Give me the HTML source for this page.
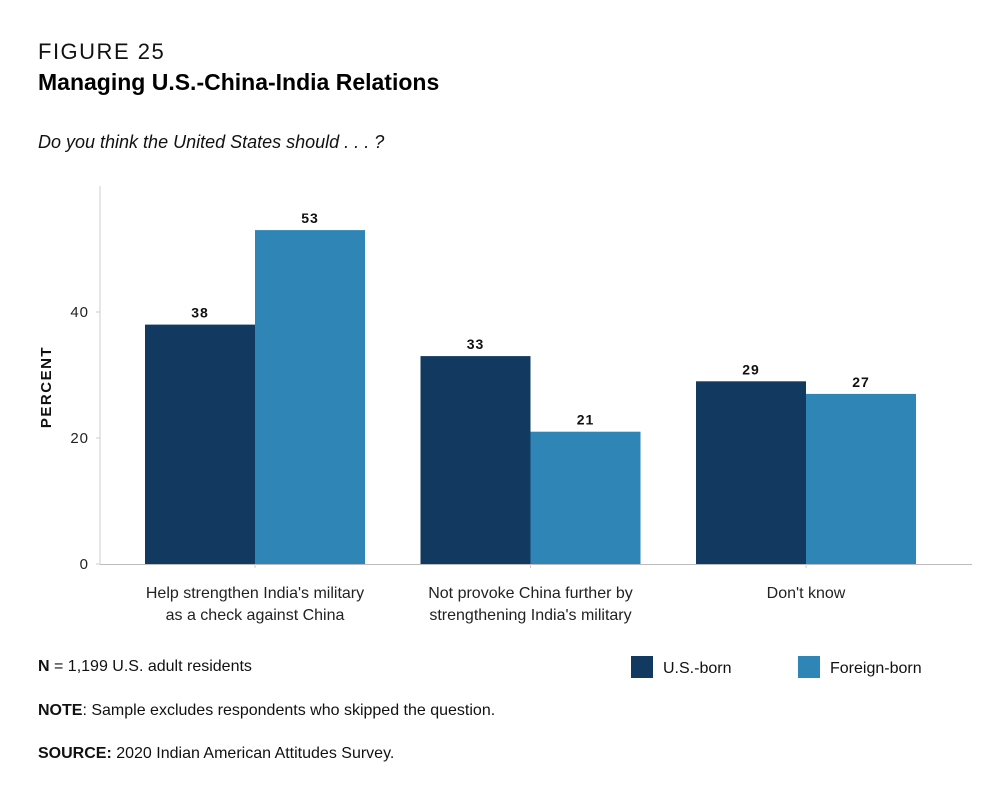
<!DOCTYPE html>
<html><head><meta charset="utf-8"><style>
body{margin:0;background:#fff;font-family:"Liberation Sans",sans-serif;}
.wrap{position:relative;width:1000px;height:790px;overflow:hidden;}
svg text{font-family:"Liberation Sans",sans-serif;}
</style></head><body>
<div class="wrap">
<svg width="1000" height="790">
<text x="38" y="59" font-size="22" letter-spacing="1.5" fill="#111">FIGURE 25</text>
<text x="38" y="90" font-size="23" font-weight="bold" fill="#000">Managing U.S.-China-India Relations</text>
<text x="38" y="148" font-size="18" font-style="italic" fill="#111">Do you think the United States should . . . ?</text>
<g id="plot"></g>
<text transform="translate(51,387) rotate(-90)" text-anchor="middle" font-size="15" font-weight="bold" letter-spacing="1.5" fill="#111">PERCENT</text>
<text x="38" y="671" font-size="16" fill="#111"><tspan font-weight="bold">N</tspan> = 1,199 U.S. adult residents</text>
<text x="38" y="715" font-size="16" fill="#111"><tspan font-weight="bold">NOTE</tspan>: Sample excludes respondents who skipped the question.</text>
<text x="38" y="758" font-size="16" fill="#111"><tspan font-weight="bold">SOURCE:</tspan> 2020 Indian American Attitudes Survey.</text>
<rect x="631" y="656" width="22" height="22" fill="#123a60"/>
<text x="663" y="673" font-size="16" fill="#111">U.S.-born</text>
<rect x="798" y="656" width="22" height="22" fill="#2f86b6"/>
<text x="830" y="673" font-size="16" fill="#111">Foreign-born</text>
</svg>
</div>
<script>
const categories = [["Help strengthen India's military","as a check against China"],["Not provoke China further by","strengthening India's military"],["Don't know",""]];
const usBorn = [38, 33, 29];
const foreignBorn = [53, 21, 27];
const yTicks = [0, 20, 40];

const NS = "http://www.w3.org/2000/svg";
const g = document.getElementById("plot");
const x0 = 100, x1 = 972, yTop = 186, yBase = 564;
const bandStart = 117.25, bandW = 275.5, barW = 110;
const y = v => yBase - v * 6.3;
const cx = i => bandStart + bandW * (i + 0.5);
function mk(tag, attrs, txt){const e=document.createElementNS(NS,tag);for(const k in attrs)e.setAttribute(k,attrs[k]);if(txt!==undefined)e.textContent=txt;g.appendChild(e);return e;}

let e = mk("line",{x1:x0,y1:yTop,x2:x0,y2:yBase,stroke:"#ccc","stroke-width":1});


e = mk("line",{x1:x0,y1:yBase+0.5,x2:x1,y2:yBase+0.5,stroke:"#bbb","stroke-width":1});



yTicks.forEach(t=>{
  const tk = mk("line",{x1:x0-4,y1:y(t),x2:x0,y2:y(t),stroke:"#ccc"});
  
  
  const lb = mk("text",{x:x0-11,y:y(t)+5,"text-anchor":"end","font-size":15,fill:"#222","letter-spacing":1},String(t));
  
  
});

categories.forEach((c,i)=>{
  const c0 = cx(i);
  const tk = mk("line",{x1:c0,y1:yBase,x2:c0,y2:yBase+4,stroke:"#ccc"});
  
  
  const b1 = mk("rect",{x:c0-barW,y:y(usBorn[i]),width:barW,height:yBase-y(usBorn[i]),fill:"#123a60"});
  
  
  const b2 = mk("rect",{x:c0,y:y(foreignBorn[i]),width:barW,height:yBase-y(foreignBorn[i]),fill:"#2f86b6"});
  
  
  const v1 = mk("text",{x:c0-barW/2,y:y(usBorn[i])-7,"text-anchor":"middle","font-size":14,"font-weight":"bold",fill:"#111","letter-spacing":1},String(usBorn[i]));
  
  
  const v2 = mk("text",{x:c0+barW/2,y:y(foreignBorn[i])-7,"text-anchor":"middle","font-size":14,"font-weight":"bold",fill:"#111","letter-spacing":1},String(foreignBorn[i]));
  
  
  c.forEach((line,j)=>{
    if(!line) return;
    const t = mk("text",{x:c0,y:598+j*22,"text-anchor":"middle","font-size":16,fill:"#222"},line);
    
    
  });
});
</script>
</body></html>
